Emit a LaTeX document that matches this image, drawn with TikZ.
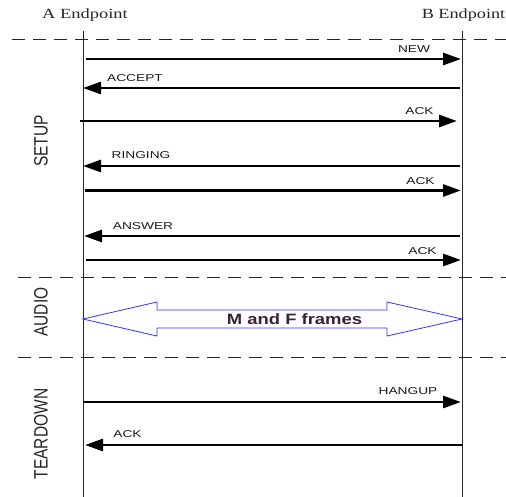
\documentclass[tikz,border=0pt]{standalone}
\usepackage{fontspec}
\setmainfont{Liberation Serif}
\setsansfont{Liberation Sans}
\usetikzlibrary{arrows.meta}
\newcommand{\hs}[2]{\scalebox{#1}[1]{#2}}
\newcommand{\vs}[2]{\scalebox{1}[#1]{#2}}
\definecolor{mftext}{RGB}{55,35,55}
\begin{document}
\begin{tikzpicture}[x=1pt,y=-1pt,
  life/.style={draw=black!85, line width=0.9pt},
  sep/.style={draw=black!85, line width=0.9pt, dash pattern=on 13pt off 8pt},
  msg/.style={draw=black, line width=2.8pt, -{Triangle[length=18pt,width=12pt]}, shorten >=0pt},
  lbl/.style={font=\sffamily\fontsize{10}{10}\selectfont, text=black!90, inner sep=0pt},
  ep/.style={font=\fontsize{14}{14}\selectfont, text=black!85, inner sep=0pt},
  phase/.style={font=\sffamily\fontsize{15.5}{15.5}\selectfont, text=black!85, inner sep=0pt, rotate=90},
  fat/.style={draw=blue!80!white, line width=0.8pt, fill=white}
]
\useasboundingbox (0,0) rectangle (506,497);
% endpoints
\node[ep] (aep) at (85,15) {\hs{1.32}{A Endpoint}};
\node[ep] (bep) at (463.5,15) {\hs{1.3}{B Endpoint}};
\coordinate (atop) at (83,31); \coordinate (abot) at (83,497);
\coordinate (btop) at (462,31); \coordinate (bbot) at (462,497);
\draw[life] (atop) -- (abot);
\draw[life] (btop) -- (bbot);
% separators
\coordinate (s1l) at (12,39); \coordinate (s1r) at (506,39);
\coordinate (s2l) at (18,277); \coordinate (s2r) at (506,277);
\coordinate (s3l) at (18,357); \coordinate (s3r) at (506,357);
\draw[sep] (s1l) -- (s1r);
\draw[sep] (s2l) -- (s2r);
\draw[sep] (s3l) -- (s3r);
% phase labels
\node[phase] (setup) at (41,141) {\vs{1.25}{SETUP}};
\node[phase] (audio) at (41,312) {\vs{1.25}{AUDIO}};
\node[phase] (tear) at (41,434) {\vs{1.25}{TEARDOWN}};
% messages
\coordinate (m1a) at (86,59); \coordinate (m1b) at (461,59);
\draw[msg] (m1a) -- (m1b);
\node[lbl, anchor=south] (l1) at (414,53) {\hs{1.37}{NEW}};
\coordinate (m2a) at (83,88); \coordinate (m2b) at (460,88);
\draw[msg] (m2b) -- (m2a);
\node[lbl, anchor=south] (l2) at (135,82) {\hs{1.37}{ACCEPT}};
\coordinate (m3a) at (80,121); \coordinate (m3b) at (457,121);
\draw[msg] (m3a) -- (m3b);
\node[lbl, anchor=south] (l3) at (419.5,115) {\hs{1.37}{ACK}};
\coordinate (m4a) at (83,166); \coordinate (m4b) at (460,166);
\draw[msg] (m4b) -- (m4a);
\node[lbl, anchor=south] (l4) at (141,159) {\hs{1.37}{RINGING}};
\coordinate (m5a) at (85,190.5); \coordinate (m5b) at (461,190.5);
\draw[msg] (m5a) -- (m5b);
\node[lbl, anchor=south] (l5) at (420.5,185) {\hs{1.37}{ACK}};
\coordinate (m6a) at (84,236); \coordinate (m6b) at (460,236);
\draw[msg] (m6b) -- (m6a);
\node[lbl, anchor=south] (l6) at (143,229.5) {\hs{1.37}{ANSWER}};
\coordinate (m7a) at (86,260); \coordinate (m7b) at (461,260);
\draw[msg] (m7a) -- (m7b);
\node[lbl, anchor=south] (l7) at (422.5,254.5) {\hs{1.37}{ACK}};
% audio
\draw[fat] (83,319) -- (157,302) -- (157,310) -- (387,310) -- (387,302) -- (462,319)
  -- (387,336) -- (387,328) -- (157,328) -- (157,336) -- cycle;
\node[font=\sffamily\bfseries\fontsize{15}{15}\selectfont, text=mftext, inner sep=0pt] (mf) at (294.5,319) {\hs{1.23}{M and F frames}};
% teardown
\coordinate (m8a) at (83,402); \coordinate (m8b) at (461,402);
\draw[msg] (m8a) -- (m8b);
\node[lbl, anchor=south] (l8) at (408,395) {\hs{1.37}{HANGUP}};
\coordinate (m9a) at (85,445); \coordinate (m9b) at (462,445);
\draw[msg] (m9b) -- (m9a);
\node[lbl, anchor=south] (l9) at (127.5,438) {\hs{1.37}{ACK}};
\end{tikzpicture}
\end{document}
